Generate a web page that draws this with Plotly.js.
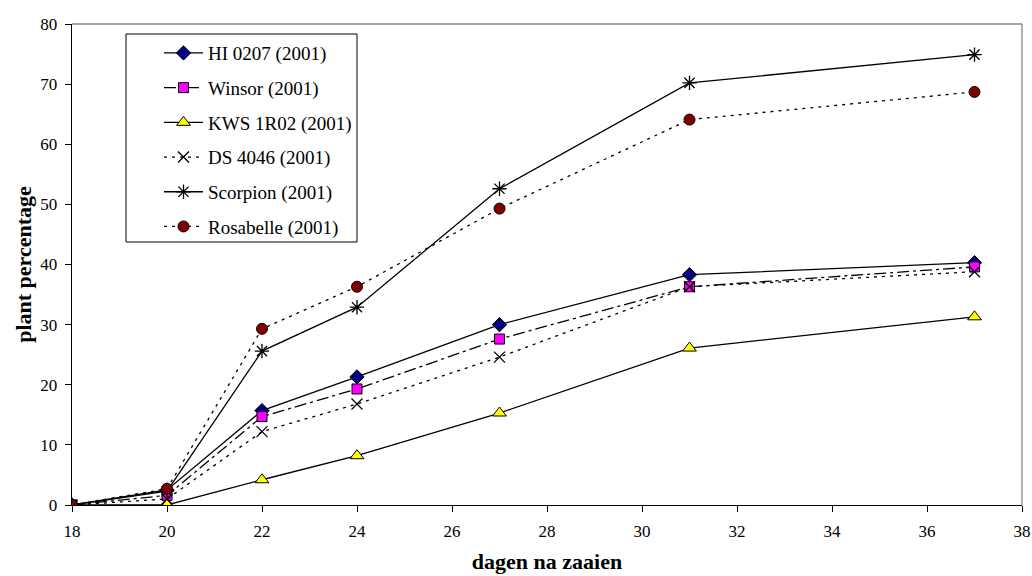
<!DOCTYPE html>
<html><head><meta charset="utf-8">
<script src="https://cdn.plot.ly/plotly-3.0.1.min.js"></script>
<style>body{margin:0;background:#fff}#chart{width:1032px;height:576px}</style>
</head><body><div id="chart"></div>
<script>
const days = [18, 20, 22, 24, 27, 31, 37];
const hi0207 = [0, 2.5, 15.7, 21.3, 30.0, 38.3, 40.3];
const winsor = [0, 1.6, 14.7, 19.3, 27.6, 36.3, 39.6];
const kws1r02 = [0, 0, 4.2, 8.2, 15.3, 26.1, 31.3];
const ds4046 = [0, 1.0, 12.2, 16.8, 24.6, 36.3, 38.8];
const scorpion = [0, 2.3, 25.6, 32.9, 52.6, 70.2, 74.9];
const rosabelle = [0, 2.7, 29.3, 36.3, 49.3, 64.1, 68.7];
const names = ['HI 0207 (2001)', 'Winsor (2001)', 'KWS 1R02 (2001)', 'DS 4046 (2001)', 'Scorpion (2001)', 'Rosabelle (2001)'];
const xTicks = [18, 20, 22, 24, 26, 28, 30, 32, 34, 36, 38];
const yTicks = [0, 10, 20, 30, 40, 50, 60, 70, 80];

const series = [hi0207, winsor, kws1r02, ds4046, scorpion, rosabelle];
const styles = [
  {dash: 'solid', symbol: 'diamond', color: '#000080', size: 11},
  {dash: '12px,4px,3px,4px', symbol: 'square', color: '#FF00FF', size: 10},
  {dash: 'solid', symbol: 'triangle-up', color: '#FFFF00', size: 12},
  {dash: '3px,5px', symbol: 'x-thin-open', color: '#000000', size: 11},
  {dash: 'solid', symbol: 'asterisk-open', color: '#000000', size: 12},
  {dash: '3px,5px', symbol: 'circle', color: '#800000', size: 11}
];
const traces = series.map((ys, i) => ({
  x: days, y: ys, name: names[i], type: 'scatter', mode: 'lines+markers',
  legendgroup: 'g' + i,
  line: {color: '#000', width: 1.3, dash: styles[i].dash},
  marker: {symbol: styles[i].symbol, size: styles[i].size, color: styles[i].color,
           line: {color: '#000', width: styles[i].symbol.indexOf('open') >= 0 ? 1.3 : 1}}
}));
const FONT = 'Liberation Serif, Times New Roman, serif';
const layout = {
  width: 1032, height: 576,
  margin: {l: 72, r: 10, t: 24, b: 71},
  paper_bgcolor: '#fff', plot_bgcolor: '#fff',
  font: {family: FONT, size: 17, color: '#000'},
  showlegend: true,
  legend: {x: (159 - 72) / 950, y: 0.979, xanchor: 'left', yanchor: 'top',
           borderwidth: 0, bgcolor: 'rgba(0,0,0,0)', itemwidth: 39,
           font: {family: FONT, size: 19}, tracegroupgap: 7, traceorder: 'grouped'},
  xaxis: {range: [18, 38], tickvals: xTicks, ticks: 'outside', ticklen: 6, tickcolor: '#000',
          showline: true, linecolor: '#000', linewidth: 1.3, showgrid: false, zeroline: false,
          tickfont: {family: FONT, size: 17}, ticklabelstandoff: 4,
          title: {text: '<b>dagen na zaaien</b>', font: {family: FONT, size: 22}, standoff: 14}},
  yaxis: {range: [0, 80], tickvals: yTicks, ticks: 'outside', ticklen: 6, tickcolor: '#000',
          showline: true, linecolor: '#000', linewidth: 1.3, showgrid: false, zeroline: false,
          tickfont: {family: FONT, size: 17}, ticklabelstandoff: 4,
          title: {text: '<b>plant percentage</b>', font: {family: FONT, size: 22}, standoff: 2}},
  shapes: [
    {type: 'line', xref: 'paper', yref: 'paper', x0: 0, x1: 1, y0: 1, y1: 1, line: {color: '#888', width: 1.3}, layer: 'below'},
    {type: 'line', xref: 'paper', yref: 'paper', x0: 1, x1: 1, y0: 0, y1: 1, line: {color: '#888', width: 1.3}, layer: 'below'},
    {type: 'rect', xref: 'paper', yref: 'paper', x0: (126 - 72) / 950, x1: (357 - 72) / 950,
     y0: (505 - 242) / 481, y1: (505 - 34) / 481, line: {color: '#000', width: 1}, fillcolor: '#fff', layer: 'above'}
  ]
};
Plotly.newPlot('chart', traces, layout, {displayModeBar: false, staticPlot: true});
</script></body></html>
